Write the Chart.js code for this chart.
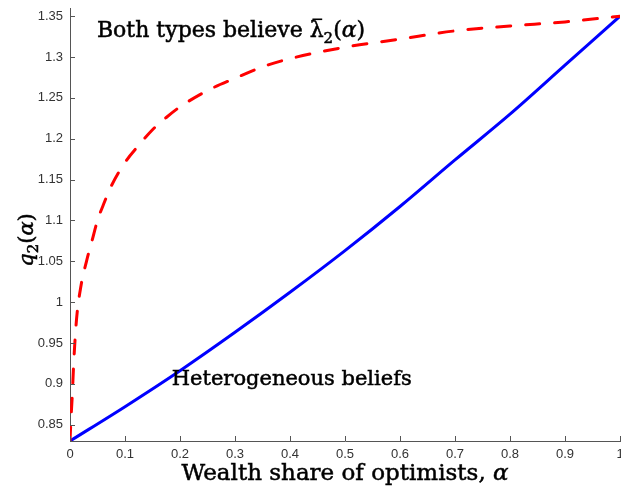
<!DOCTYPE html>
<html>
<head>
<meta charset="utf-8">
<script src="https://cdn.jsdelivr.net/npm/chart.js@4/dist/chart.umd.min.js"></script>
<style>
  html, body { margin: 0; padding: 0; background: #fff; }
  #wrap { width: 621px; height: 491px; }
</style>
</head>
<body>
<div id="wrap"><canvas id="chartQ2"></canvas></div>
<script>
// alpha = wealth share of optimists
const alphaHetero = [0, 0.1, 0.2, 0.3, 0.4, 0.5, 0.6, 0.7, 0.8, 0.9, 1];
const q2Hetero = [0.83, 0.872, 0.916, 0.963, 1.012, 1.063, 1.117, 1.174, 1.23, 1.29, 1.35];

const alphaBoth = [0, 0.002, 0.004, 0.007, 0.012, 0.02, 0.03, 0.04, 0.05, 0.06, 0.075,
  0.1, 0.125, 0.15, 0.175, 0.2, 0.25, 0.3, 0.35, 0.4, 0.5, 0.6, 0.7, 0.8, 0.9, 1];
const q2Both = [0.83, 0.86, 0.884, 0.929, 0.98, 1.02, 1.05, 1.075, 1.1, 1.118, 1.142,
  1.171, 1.192, 1.211, 1.226, 1.239, 1.259, 1.274, 1.288, 1.298, 1.312, 1.322, 1.332, 1.338, 1.343, 1.35];

const xTicks = [0, 0.1, 0.2, 0.3, 0.4, 0.5, 0.6, 0.7, 0.8, 0.9, 1];
const yTicks = [0.85, 0.9, 0.95, 1, 1.05, 1.1, 1.15, 1.2, 1.25, 1.3, 1.35];

const AXIS_COLOR = '#555555';
const SERIF = '"DejaVu Serif", serif';

// draws a list of text pieces one after another: {t, italic, sub, bar}
function drawRich(ctx, parts, x, y, size) {
  let cx = x;
  ctx.lineWidth = 0.5;
  ctx.strokeStyle = '#000';
  parts.forEach(p => {
    const fs = p.sub ? Math.round(size * 0.7) : size;
    ctx.font = (p.italic ? 'italic ' : '') + fs + 'px ' + SERIF;
    const dy = p.sub ? size * 0.25 : 0;
    ctx.fillText(p.t, cx, y + dy);
    ctx.strokeText(p.t, cx, y + dy); // a bit heavier, like the tex font
    const w = ctx.measureText(p.t).width;
    if (p.bar) {
      ctx.fillRect(cx + w * 0.2, y - size * 0.86, w * 0.7, 1.6);
    }
    cx += w;
  });
  return cx - x;
}

function richWidth(ctx, parts, size) {
  let w = 0;
  parts.forEach(p => {
    const fs = p.sub ? Math.round(size * 0.7) : size;
    ctx.font = (p.italic ? 'italic ' : '') + fs + 'px ' + SERIF;
    w += ctx.measureText(p.t).width;
  });
  return w;
}

const decorPlugin = {
  id: 'decor',
  afterDraw(chart) {
    const { ctx, chartArea, scales: { x, y } } = chart;
    ctx.save();

    // inward tick marks, matlab style
    ctx.strokeStyle = AXIS_COLOR;
    ctx.lineWidth = 1;
    ctx.beginPath();
    xTicks.forEach(v => {
      const px = Math.round(x.getPixelForValue(v)) + 0.5;
      ctx.moveTo(px, chartArea.bottom);
      ctx.lineTo(px, chartArea.bottom - 5);
    });
    yTicks.forEach(v => {
      const py = Math.round(y.getPixelForValue(v)) + 0.5;
      ctx.moveTo(chartArea.left, py);
      ctx.lineTo(chartArea.left + 5, py);
    });
    ctx.stroke();

    // annotations
    ctx.fillStyle = '#000';
    ctx.textBaseline = 'alphabetic';
    ctx.textAlign = 'left';
    drawRich(ctx, [
      { t: 'Both types believe ' },
      { t: 'λ', bar: true },
      { t: '2', sub: true },
      { t: '(' }, { t: 'α', italic: true }, { t: ')' }
    ], x.getPixelForValue(0.049), y.getPixelForValue(1.324), 22);

    drawRich(ctx, [{ t: 'Heterogeneous beliefs' }],
      x.getPixelForValue(0.185), y.getPixelForValue(0.898), 21);

    // x axis title
    const xTitle = [{ t: 'Wealth share of optimists, ' }, { t: 'α', italic: true }];
    const xw = richWidth(ctx, xTitle, 23);
    drawRich(ctx, xTitle, (chartArea.left + chartArea.right) / 2 - xw / 2, chartArea.bottom + 39, 23);

    // y axis title, rotated
    const yTitle = [{ t: 'q', italic: true }, { t: '2', sub: true }, { t: '(' }, { t: 'α', italic: true }, { t: ')' }];
    const yw = richWidth(ctx, yTitle, 21);
    ctx.translate(33, 240);
    ctx.rotate(-Math.PI / 2);
    drawRich(ctx, yTitle, -yw / 2, 0, 21);

    ctx.restore();
  }
};

const ctx = document.getElementById('chartQ2');
new Chart(ctx, {
  type: 'line',
  data: {
    datasets: [
      {
        label: 'Both types believe',
        data: alphaBoth.map((a, i) => ({ x: a, y: q2Both[i] })),
        borderColor: '#ff0000',
        borderWidth: 3,
        borderDash: [14, 15],
        borderCapStyle: 'round',
        pointRadius: 0,
        cubicInterpolationMode: 'monotone',
        fill: false
      },
      {
        label: 'Heterogeneous beliefs',
        data: alphaHetero.map((a, i) => ({ x: a, y: q2Hetero[i] })),
        borderColor: '#0000ff',
        borderWidth: 3,
        pointRadius: 0,
        cubicInterpolationMode: 'monotone',
        fill: false
      }
    ]
  },
  options: {
    responsive: true,
    maintainAspectRatio: false,
    animation: false,
    layout: { padding: { top: 8, right: 1, left: 0, bottom: 0 } },
    plugins: { legend: { display: false }, tooltip: { enabled: false } },
    scales: {
      x: {
        type: 'linear',
        min: 0,
        max: 1,
        afterBuildTicks: s => { s.ticks = xTicks.map(v => ({ value: v })); },
        afterFit: s => { s.height = 50; s.paddingRight = 0; s.paddingLeft = 0; },
        grid: { display: true, drawOnChartArea: false, drawTicks: false },
        border: { display: true, color: AXIS_COLOR, width: 1 },
        ticks: {
          padding: 6,
          color: '#333',
          maxRotation: 0,
          font: { family: '"Liberation Sans", Arial, sans-serif', size: 13 },
          callback: v => String(Number(v.toFixed(2)))
        }
      },
      y: {
        type: 'linear',
        min: 0.83,
        max: 1.36,
        afterBuildTicks: s => { s.ticks = yTicks.map(v => ({ value: v })); },
        afterFit: s => { s.width = 70; s.paddingTop = 0; s.paddingBottom = 0; },
        grid: { display: true, drawOnChartArea: false, drawTicks: false },
        border: { display: true, color: AXIS_COLOR, width: 1 },
        ticks: {
          padding: 7,
          color: '#333',
          font: { family: '"Liberation Sans", Arial, sans-serif', size: 13 },
          callback: v => String(Number(v.toFixed(2)))
        }
      }
    }
  },
  plugins: [decorPlugin]
});
</script>
</body>
</html>
